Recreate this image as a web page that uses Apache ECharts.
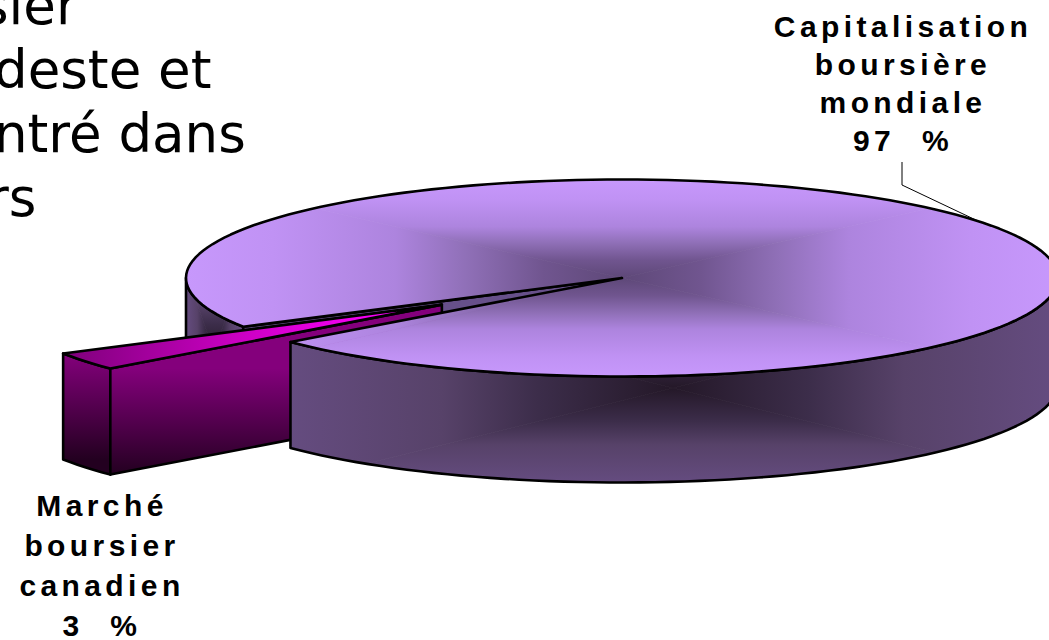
<!DOCTYPE html>
<html>
<head>
<meta charset="utf-8">
<title>Capitalisation boursière</title>
<style>
  html, body { margin: 0; padding: 0; background: #fff; overflow: hidden; }
  #chart { width: 1049px; height: 640px; }
  /* zrender has no letter spacing option, the labels in the picture are spaced out */
  #chart text[style*="bold"] { letter-spacing: 4.4px; word-spacing: 14px; }
</style>
</head>
<body>
<div id="chart"></div>
<script src="https://cdn.jsdelivr.net/npm/echarts@6/dist/echarts.min.js"></script>
<script>
const categories = ['Capitalisation\nboursière\nmondiale', 'Marché\nboursier\ncanadien'];
const shares = [97, 3];
const bodyLines = ['sier', 'deste et', 'ntré dans', 'rs'];

// pie geometry (screen px), y axis points down so angles run clockwise
const cx = 622, cy = 278, rx = 436, ry = 98.5, depth = 106;
const frontEdgeDeg = 139.5;
const explodeX = 0.505, explodeY = 0.47;
const outline = { stroke: '#000', lineWidth: 2.6, fill: 'none', lineJoin: 'round' };

const topStops = [[0, '#5e4878'], [0.18, '#70558f'], [0.36, '#9070b8'], [0.52, '#ad84de'], [0.8, '#c092f4'], [1, '#c798fc']];
const wallStops = [[0, '#241828'], [0.35, '#3c2d4a'], [0.6, '#574269'], [1, '#654c80']];

const rad = d => d * Math.PI / 180;
const onRim = (deg, ox, oy) => [cx + ox + rx * Math.cos(rad(deg)), cy + oy + ry * Math.sin(rad(deg))];

function arc(from, to, ox, oy) {
  const pts = [];
  const n = Math.max(2, Math.ceil(Math.abs(to - from) / 2));
  for (let i = 0; i <= n; i++) pts.push(onRim(from + (to - from) * i / n, ox, oy));
  return pts;
}
const drop = pts => pts.map(p => [p[0], p[1] + depth]).reverse();

// keep the part of a polygon on the side a*x + b*y + c >= 0
function clip(pts, a, b, c) {
  const out = [];
  pts.forEach((p, i) => {
    const q = pts[(i + 1) % pts.length];
    const dp = a * p[0] + b * p[1] + c, dq = a * q[0] + b * q[1] + c;
    if (dp >= 0) out.push(p);
    if (dp * dq < 0) {
      const t = dp / (dp - dq);
      out.push([p[0] + (q[0] - p[0]) * t, p[1] + (q[1] - p[1]) * t]);
    }
  });
  return out;
}

// office style "rectangular" gradient: four triangles, one linear gradient each
function boxFill(pts, gx, gy, hx, hy, stops, z2) {
  const colorStops = stops.map(s => ({ offset: s[0], color: s[1] }));
  const sides = [[1, 0], [-1, 0], [0, 1], [0, -1]];
  return sides.map(([sx, sy]) => {
    let part;
    if (sx) {
      part = clip(pts, sx * hy, -hx, -sx * hy * gx + hx * gy);
      part = clip(part, sx * hy, hx, -sx * hy * gx - hx * gy);
    } else {
      part = clip(pts, -hy, sy * hx, hy * gx - sy * hx * gy);
      part = clip(part, hy, sy * hx, -hy * gx - sy * hx * gy);
    }
    const fill = new echarts.graphic.LinearGradient(gx, gy, gx + sx * hx, gy + sy * hy, colorStops, true);
    return { type: 'polygon', z2, shape: { points: part }, style: { fill, stroke: fill, lineWidth: 0.8 } };
  });
}

const line = (points, z2) => ({ type: 'polygon', z2, shape: { points }, style: outline });

function label(text, x, y, z2, lineHeight) {
  return {
    type: 'text', z2, x, y,
    style: {
      text, align: 'center', verticalAlign: 'middle', fill: '#000',
      font: 'bold 30px "Liberation Sans", Arial, sans-serif', lineHeight
    }
  };
}

function drawMain(start, end, value, name) {
  const center = [cx, cy];
  const mid = (start + end) / 2;
  const rimRight = arc(0, frontEdgeDeg, 0, 0);
  const rimLeft = arc(start, 180, 0, 0);
  const top = [center].concat(arc(start, end, 0, 0));
  const wallFront = rimRight.concat(drop(rimRight));
  const wallLeft = rimLeft.concat(drop(rimLeft));
  const corner = onRim(start, 0, 0);
  const notch = [center, corner, [corner[0], corner[1] + depth], [cx, cy + depth]];
  const anchor = onRim(mid, 0, 0);
  return [].concat(
    boxFill(wallLeft, 214, 352, 28, 80, wallStops, 1),
    [line(wallLeft, 2)],
    [{ type: 'polygon', z2: 3, shape: { points: notch }, style: Object.assign({}, outline, { fill: '#67508a' }) }],
    boxFill(wallFront, 673, 388, 385, 95, wallStops, 20),
    [line(wallFront, 21)],
    boxFill(top, cx, cy, rx, ry, topStops, 22),
    [line(top, 23)],
    [{ type: 'polyline', z2: 24, shape: { points: [[902, 162], [902, 185], anchor] }, style: { stroke: '#000', lineWidth: 1, fill: 'none' } }],
    [label(name + '\n' + value + ' %', 903, 83, 25, 38)]
  );
}

function drawSlice(start, end, value, name) {
  const mid = (start + end) / 2;
  const ox = explodeX * rx * Math.cos(rad(mid));
  const oy = explodeY * ry * Math.sin(rad(mid));
  const apex = [cx + ox, cy + oy];
  const rim = arc(start, end, ox, oy);
  const last = rim[rim.length - 1];
  const front = [apex, rim[0], [rim[0][0], rim[0][1] + depth], [apex[0], apex[1] + depth]];
  const outer = rim.concat(drop(rim));
  const stops = [{ offset: 0, color: '#84007c' }, { offset: 1, color: '#230020' }];
  const wallFill = new echarts.graphic.LinearGradient(0, rim[0][1], 0, rim[0][1] + depth, stops, true);
  const wallOuterFill = new echarts.graphic.LinearGradient(0, last[1], 0, last[1] + depth, stops, true);
  const topFill = new echarts.graphic.LinearGradient(last[0], 0, apex[0], 0, [
    { offset: 0, color: '#7e007a' }, { offset: 0.45, color: '#c800c0' },
    { offset: 0.87, color: '#ff00ff' }, { offset: 1, color: '#8a0088' }
  ], true);
  return [
    { type: 'polygon', z2: 10, shape: { points: outer }, style: Object.assign({}, outline, { fill: wallOuterFill }) },
    { type: 'polygon', z2: 11, shape: { points: front }, style: Object.assign({}, outline, { fill: wallFill }) },
    { type: 'polygon', z2: 12, shape: { points: [apex].concat(rim) }, style: Object.assign({}, outline, { fill: topFill }) },
    label(name + '\n' + value + ' %', 102, 565, 25, 40)
  ];
}

const total = shares.reduce((a, b) => a + b, 0);
const sliceSweep = shares[1] / total * 360;

const chart = echarts.init(document.getElementById('chart'), null, { renderer: 'svg' });
chart.setOption({
  animation: false,
  backgroundColor: '#fff',
  graphic: bodyLines.map((text, i) => ({
    type: 'text', left: [-19, -6, -6, -13][i], top: [-21, 43, 107, 171][i],
    style: { text, fill: '#000', font: '53px "DejaVu Sans", sans-serif' }
  })),
  series: [{
    type: 'custom',
    coordinateSystem: 'none',
    silent: true,
    data: shares,
    renderItem(params, api) {
      const value = api.value(0);
      const name = categories[params.dataIndex];
      const children = params.dataIndex === 0
        ? drawMain(frontEdgeDeg + sliceSweep, frontEdgeDeg + 360, value, name)
        : drawSlice(frontEdgeDeg, frontEdgeDeg + sliceSweep, value, name);
      return { type: 'group', children };
    }
  }]
});
</script>
</body>
</html>
